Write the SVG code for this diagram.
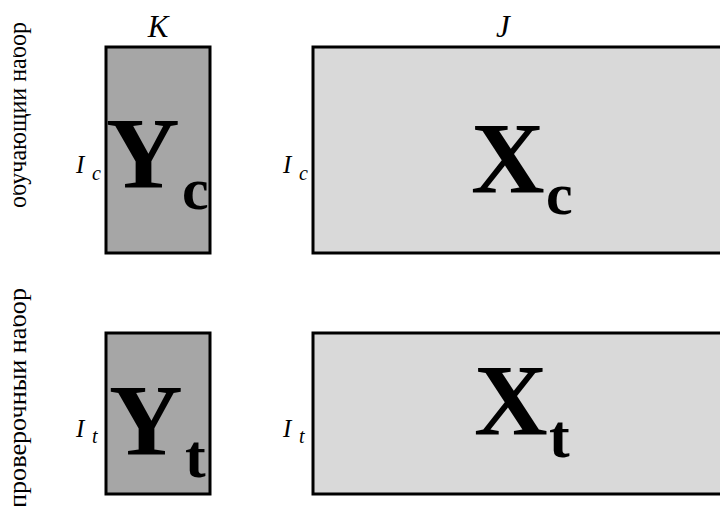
<svg xmlns="http://www.w3.org/2000/svg" width="720" height="506" viewBox="0 0 720 506" font-family="Liberation Serif, Times New Roman, serif">
<style>
.dark{fill:#a6a6a6;stroke:#000;stroke-width:3}
.light{fill:#d9d9d9;stroke:#000;stroke-width:3}
text{font-family:'Liberation Serif','Times New Roman',serif;fill:#000}
.it{font-style:italic}
.big{font-weight:bold}
.side{font-size:25px}
</style>
<defs>
<clipPath id="sideclip"><rect x="13" y="0" width="60" height="506"/></clipPath>
</defs>
<rect width="720" height="506" fill="#fff"/>
<g id="labels" clip-path="url(#sideclip)">
<text class="side" transform="translate(26,115) rotate(-90)" text-anchor="middle" textLength="186" lengthAdjust="spacingAndGlyphs">обучающий набор</text>
<text class="side" transform="translate(26,398) rotate(-90)" text-anchor="middle" textLength="220" lengthAdjust="spacingAndGlyphs">проверочный набор</text>
</g>
<text class="it" x="158" y="37" font-size="31" text-anchor="middle">K</text>
<text class="it" x="503" y="37" font-size="31" text-anchor="middle">J</text>
<g id="Yc">
<rect class="dark" x="106" y="47" width="104" height="206"/>
<text class="big" x="106" y="188" font-size="102">Y</text>
<text class="big" x="182" y="209" font-size="60">c</text>
<text class="it" x="76" y="173" font-size="25">I</text>
<text class="it" x="92" y="180" font-size="20">c</text>
</g>
<g id="Xc">
<rect class="light" x="313" y="47" width="420" height="206"/>
<text class="big" x="471" y="193" font-size="102">X</text>
<text class="big" x="546" y="214" font-size="60">c</text>
<text class="it" x="283" y="173" font-size="25">I</text>
<text class="it" x="299" y="180" font-size="20">c</text>
</g>
<g id="Yt">
<rect class="dark" x="106" y="333" width="104" height="161"/>
<text class="big" x="109" y="455" font-size="102">Y</text>
<text class="big" x="185" y="477" font-size="62">t</text>
<text class="it" x="76" y="437" font-size="25">I</text>
<text class="it" x="92" y="443" font-size="20">t</text>
</g>
<g id="Xt">
<rect class="light" x="313" y="333" width="420" height="161"/>
<text class="big" x="474" y="435" font-size="102">X</text>
<text class="big" x="549" y="457" font-size="62">t</text>
<text class="it" x="283" y="437" font-size="25">I</text>
<text class="it" x="299" y="443" font-size="20">t</text>
</g>
<g id="connectors"/>
</svg>
